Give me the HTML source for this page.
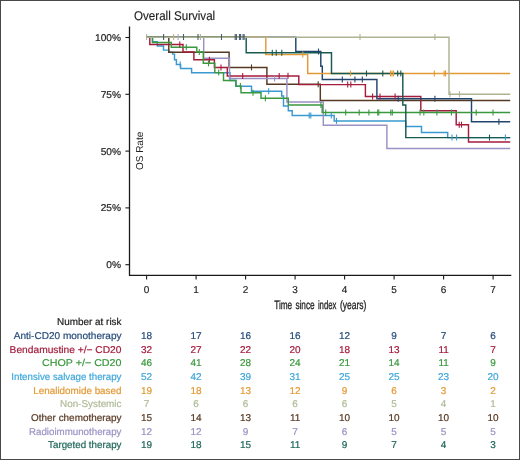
<!DOCTYPE html>
<html><head><meta charset="utf-8"><style>
html,body{margin:0;padding:0;background:#fff;}
.f{position:relative;width:520px;height:460px;box-sizing:border-box;border:1px solid #484848;overflow:hidden;background:#fff;}
svg{position:absolute;left:-1px;top:-1px;will-change:transform;}
text{font-family:"Liberation Sans",sans-serif;text-rendering:geometricPrecision;}
</style></head><body><div class="f"><svg width="520" height="460" viewBox="0 0 520 460">
<text x="134" y="19.8" font-size="12.7" textLength="81.2" lengthAdjust="spacingAndGlyphs" fill="#222" stroke="#222" stroke-width="0.15">Overall Survival</text>
<path d="M129.5 26.4 V275.3 H511.3" fill="none" stroke="#1a1a1a" stroke-width="1.3"/>
<path d="M125.4 37.50 H129.5" stroke="#1a1a1a" stroke-width="1.1"/>
<text x="121.0" y="40.90" font-size="9.9" text-anchor="end" textLength="25.88" lengthAdjust="spacingAndGlyphs" fill="#222" stroke="#222" stroke-width="0.2">100%</text>
<path d="M125.4 94.30 H129.5" stroke="#1a1a1a" stroke-width="1.1"/>
<text x="121.0" y="97.70" font-size="9.9" text-anchor="end" textLength="20.31" lengthAdjust="spacingAndGlyphs" fill="#222" stroke="#222" stroke-width="0.2">75%</text>
<path d="M125.4 151.10 H129.5" stroke="#1a1a1a" stroke-width="1.1"/>
<text x="121.0" y="154.50" font-size="9.9" text-anchor="end" textLength="20.31" lengthAdjust="spacingAndGlyphs" fill="#222" stroke="#222" stroke-width="0.2">50%</text>
<path d="M125.4 207.90 H129.5" stroke="#1a1a1a" stroke-width="1.1"/>
<text x="121.0" y="211.30" font-size="9.9" text-anchor="end" textLength="20.31" lengthAdjust="spacingAndGlyphs" fill="#222" stroke="#222" stroke-width="0.2">25%</text>
<path d="M125.4 264.70 H129.5" stroke="#1a1a1a" stroke-width="1.1"/>
<text x="121.0" y="268.10" font-size="9.9" text-anchor="end" textLength="14.75" lengthAdjust="spacingAndGlyphs" fill="#222" stroke="#222" stroke-width="0.2">0%</text>
<path d="M146.60 275.3 V279.5" stroke="#1a1a1a" stroke-width="1.1"/>
<text x="146.60" y="292.5" font-size="10" text-anchor="middle" fill="#222" stroke="#222" stroke-width="0.15">0</text>
<path d="M196.10 275.3 V279.5" stroke="#1a1a1a" stroke-width="1.1"/>
<text x="196.10" y="292.5" font-size="10" text-anchor="middle" fill="#222" stroke="#222" stroke-width="0.15">1</text>
<path d="M245.60 275.3 V279.5" stroke="#1a1a1a" stroke-width="1.1"/>
<text x="245.60" y="292.5" font-size="10" text-anchor="middle" fill="#222" stroke="#222" stroke-width="0.15">2</text>
<path d="M295.10 275.3 V279.5" stroke="#1a1a1a" stroke-width="1.1"/>
<text x="295.10" y="292.5" font-size="10" text-anchor="middle" fill="#222" stroke="#222" stroke-width="0.15">3</text>
<path d="M344.60 275.3 V279.5" stroke="#1a1a1a" stroke-width="1.1"/>
<text x="344.60" y="292.5" font-size="10" text-anchor="middle" fill="#222" stroke="#222" stroke-width="0.15">4</text>
<path d="M394.10 275.3 V279.5" stroke="#1a1a1a" stroke-width="1.1"/>
<text x="394.10" y="292.5" font-size="10" text-anchor="middle" fill="#222" stroke="#222" stroke-width="0.15">5</text>
<path d="M443.60 275.3 V279.5" stroke="#1a1a1a" stroke-width="1.1"/>
<text x="443.60" y="292.5" font-size="10" text-anchor="middle" fill="#222" stroke="#222" stroke-width="0.15">6</text>
<path d="M493.10 275.3 V279.5" stroke="#1a1a1a" stroke-width="1.1"/>
<text x="493.10" y="292.5" font-size="10" text-anchor="middle" fill="#222" stroke="#222" stroke-width="0.15">7</text>
<text transform="translate(143.0,170.1) rotate(-90)" font-size="10" textLength="38.4" lengthAdjust="spacingAndGlyphs" fill="#222">OS Rate</text>
<text x="274.2" y="309.4" font-size="12" textLength="18.0" lengthAdjust="spacingAndGlyphs" fill="#222" stroke="#222" stroke-width="0.3">Time</text>
<text x="295.4" y="309.4" font-size="12" textLength="19.3" lengthAdjust="spacingAndGlyphs" fill="#222" stroke="#222" stroke-width="0.3">since</text>
<text x="317.9" y="309.4" font-size="12" textLength="18.6" lengthAdjust="spacingAndGlyphs" fill="#222" stroke="#222" stroke-width="0.3">index</text>
<text x="339.9" y="309.4" font-size="12" textLength="26.5" lengthAdjust="spacingAndGlyphs" fill="#222" stroke="#222" stroke-width="0.3">(years)</text>
<path d="M146.60 37.20 H152.50 V41.70 H157.30 V46.00 H163.50 V50.10 H168.80 V52.20 H172.60 V54.10 H174.50 V59.80 H176.40 V64.40 H180.60 V68.50 H191.60 V72.70 H230.00 V80.40 H235.80 V86.30 H251.50 V91.30 H281.70 V95.90 H283.50 V105.90 H288.30 V110.70 H292.20 V115.40 H334.20 V120.90 H405.80 V126.50 H421.50 V132.40 H447.70 V137.60 H510.20" fill="none" stroke="#3a9ad0" stroke-width="1.45"/>
<path d="M146.60 37.20 H168.80 V52.20 H229.10 V67.40 H266.90 V84.20 H320.30 V100.40 H510.20" fill="none" stroke="#573823" stroke-width="1.45"/>
<path d="M146.60 37.20 H149.80 V44.50 H183.00 V52.00 H193.90 V59.70 H214.40 V67.40 H227.30 V75.90 H298.80 V84.60 H365.40 V96.50 H420.80 V110.80 H456.20 V124.70 H468.50 V142.00 H510.20" fill="none" stroke="#a51c3c" stroke-width="1.45"/>
<path d="M146.60 37.20 H295.80 V51.50 H320.80 V66.20 H322.30 V79.50 H376.90 V98.80 H471.50 V121.70 H510.20" fill="none" stroke="#22456e" stroke-width="1.45"/>
<path d="M146.60 37.20 H265.80 V54.60 H307.70 V73.50 H510.20" fill="none" stroke="#e39a35" stroke-width="1.45"/>
<path d="M146.60 37.20 H203.70 V58.20 H229.50 V78.50 H286.90 V101.90 H323.30 V125.30 H386.90 V148.50 H510.20" fill="none" stroke="#9a92c4" stroke-width="1.45"/>
<path d="M146.60 37.20 H152.50 V42.40 H171.30 V47.20 H196.80 V52.00 H203.30 V63.30 H214.80 V72.60 H223.50 V80.40 H236.00 V86.10 H241.00 V92.70 H261.00 V98.30 H288.30 V105.00 H322.20 V112.50 H510.20" fill="none" stroke="#3a983e" stroke-width="1.45"/>
<path d="M146.60 37.20 H246.20 V52.80 H331.50 V73.50 H402.80 V105.00 H405.80 V137.60 H510.20" fill="none" stroke="#185a50" stroke-width="1.45"/>
<path d="M146.60 37.20 H449.00 V94.20 H510.20" fill="none" stroke="#aeb392" stroke-width="1.45"/>
<path d="M180.20 61.40 V67.40" stroke="#3a9ad0" stroke-width="1.1"/>
<path d="M268.70 88.30 V94.30" stroke="#3a9ad0" stroke-width="1.1"/>
<path d="M309.20 112.40 V118.40" stroke="#3a9ad0" stroke-width="1.1"/>
<path d="M310.80 112.40 V118.40" stroke="#3a9ad0" stroke-width="1.1"/>
<path d="M331.30 112.40 V118.40" stroke="#3a9ad0" stroke-width="1.1"/>
<path d="M336.50 117.90 V123.90" stroke="#3a9ad0" stroke-width="1.1"/>
<path d="M452.00 134.60 V140.60" stroke="#3a9ad0" stroke-width="1.1"/>
<path d="M456.60 134.60 V140.60" stroke="#3a9ad0" stroke-width="1.1"/>
<path d="M505.40 134.60 V140.60" stroke="#3a9ad0" stroke-width="1.1"/>
<path d="M251.50 64.40 V70.40" stroke="#573823" stroke-width="1.1"/>
<path d="M318.20 81.20 V87.20" stroke="#573823" stroke-width="1.1"/>
<path d="M179.80 41.50 V47.50" stroke="#a51c3c" stroke-width="1.1"/>
<path d="M209.40 56.70 V62.70" stroke="#a51c3c" stroke-width="1.1"/>
<path d="M221.00 64.40 V70.40" stroke="#a51c3c" stroke-width="1.1"/>
<path d="M242.70 72.90 V78.90" stroke="#a51c3c" stroke-width="1.1"/>
<path d="M279.20 72.90 V78.90" stroke="#a51c3c" stroke-width="1.1"/>
<path d="M288.00 72.80 V78.80" stroke="#a51c3c" stroke-width="1.1"/>
<path d="M347.70 81.60 V87.60" stroke="#a51c3c" stroke-width="1.1"/>
<path d="M350.80 81.60 V87.60" stroke="#a51c3c" stroke-width="1.1"/>
<path d="M372.60 93.50 V99.50" stroke="#a51c3c" stroke-width="1.1"/>
<path d="M380.00 93.50 V99.50" stroke="#a51c3c" stroke-width="1.1"/>
<path d="M395.10 93.50 V99.50" stroke="#a51c3c" stroke-width="1.1"/>
<path d="M459.20 121.70 V127.70" stroke="#a51c3c" stroke-width="1.1"/>
<path d="M461.50 121.70 V127.70" stroke="#a51c3c" stroke-width="1.1"/>
<path d="M318.50 48.50 V54.50" stroke="#22456e" stroke-width="1.1"/>
<path d="M342.30 76.50 V82.50" stroke="#22456e" stroke-width="1.1"/>
<path d="M354.90 76.50 V82.50" stroke="#22456e" stroke-width="1.1"/>
<path d="M362.30 76.50 V82.50" stroke="#22456e" stroke-width="1.1"/>
<path d="M398.20 95.80 V101.80" stroke="#22456e" stroke-width="1.1"/>
<path d="M434.90 95.80 V101.80" stroke="#22456e" stroke-width="1.1"/>
<path d="M498.90 118.70 V124.70" stroke="#22456e" stroke-width="1.1"/>
<path d="M302.80 51.60 V57.60" stroke="#e39a35" stroke-width="1.1"/>
<path d="M350.50 70.50 V76.50" stroke="#e39a35" stroke-width="1.1"/>
<path d="M390.50 70.50 V76.50" stroke="#e39a35" stroke-width="1.1"/>
<path d="M392.00 70.50 V76.50" stroke="#e39a35" stroke-width="1.1"/>
<path d="M393.50 70.50 V76.50" stroke="#e39a35" stroke-width="1.1"/>
<path d="M434.30 70.50 V76.50" stroke="#e39a35" stroke-width="1.1"/>
<path d="M444.10 70.50 V76.50" stroke="#e39a35" stroke-width="1.1"/>
<path d="M445.50 70.50 V76.50" stroke="#e39a35" stroke-width="1.1"/>
<path d="M274.60 75.50 V81.50" stroke="#9a92c4" stroke-width="1.1"/>
<path d="M186.30 44.20 V50.20" stroke="#3a983e" stroke-width="1.1"/>
<path d="M199.30 49.00 V55.00" stroke="#3a983e" stroke-width="1.1"/>
<path d="M208.50 60.30 V66.30" stroke="#3a983e" stroke-width="1.1"/>
<path d="M218.70 69.60 V75.60" stroke="#3a983e" stroke-width="1.1"/>
<path d="M240.40 83.10 V89.10" stroke="#3a983e" stroke-width="1.1"/>
<path d="M253.00 89.70 V95.70" stroke="#3a983e" stroke-width="1.1"/>
<path d="M265.40 95.30 V101.30" stroke="#3a983e" stroke-width="1.1"/>
<path d="M320.90 102.00 V108.00" stroke="#3a983e" stroke-width="1.1"/>
<path d="M325.70 109.50 V115.50" stroke="#3a983e" stroke-width="1.1"/>
<path d="M345.70 109.50 V115.50" stroke="#3a983e" stroke-width="1.1"/>
<path d="M359.20 109.50 V115.50" stroke="#3a983e" stroke-width="1.1"/>
<path d="M368.90 109.50 V115.50" stroke="#3a983e" stroke-width="1.1"/>
<path d="M377.70 109.50 V115.50" stroke="#3a983e" stroke-width="1.1"/>
<path d="M378.80 109.50 V115.50" stroke="#3a983e" stroke-width="1.1"/>
<path d="M390.80 109.50 V115.50" stroke="#3a983e" stroke-width="1.1"/>
<path d="M392.30 109.50 V115.50" stroke="#3a983e" stroke-width="1.1"/>
<path d="M420.00 109.50 V115.50" stroke="#3a983e" stroke-width="1.1"/>
<path d="M423.80 109.50 V115.50" stroke="#3a983e" stroke-width="1.1"/>
<path d="M436.90 109.50 V115.50" stroke="#3a983e" stroke-width="1.1"/>
<path d="M451.50 109.50 V115.50" stroke="#3a983e" stroke-width="1.1"/>
<path d="M476.20 109.50 V115.50" stroke="#3a983e" stroke-width="1.1"/>
<path d="M493.00 109.50 V115.50" stroke="#3a983e" stroke-width="1.1"/>
<path d="M272.30 49.80 V55.80" stroke="#185a50" stroke-width="1.1"/>
<path d="M276.20 49.80 V55.80" stroke="#185a50" stroke-width="1.1"/>
<path d="M281.80 49.80 V55.80" stroke="#185a50" stroke-width="1.1"/>
<path d="M366.50 70.50 V76.50" stroke="#185a50" stroke-width="1.1"/>
<path d="M382.80 70.50 V76.50" stroke="#185a50" stroke-width="1.1"/>
<path d="M397.70 70.50 V76.50" stroke="#185a50" stroke-width="1.1"/>
<path d="M400.80 70.50 V76.50" stroke="#185a50" stroke-width="1.1"/>
<path d="M489.50 134.60 V140.60" stroke="#185a50" stroke-width="1.1"/>
<path d="M146.60 34.00 V40.00" stroke="#aeb392" stroke-width="1.1"/>
<path d="M200.40 34.00 V40.00" stroke="#aeb392" stroke-width="1.1"/>
<path d="M360.00 34.00 V40.00" stroke="#aeb392" stroke-width="1.1"/>
<path d="M434.90 34.00 V40.00" stroke="#aeb392" stroke-width="1.1"/>
<path d="M450.00 91.20 V97.20" stroke="#aeb392" stroke-width="1.1"/>
<path d="M459.50 91.20 V97.20" stroke="#aeb392" stroke-width="1.1"/>
<path d="M163.60 34.00 V40.00" stroke="#4a5e70" stroke-width="1.1"/>
<path d="M183.50 34.00 V40.00" stroke="#4a5e70" stroke-width="1.1"/>
<path d="M198.00 34.00 V40.00" stroke="#4a5e70" stroke-width="1.1"/>
<path d="M221.50 34.00 V40.00" stroke="#4a5e70" stroke-width="1.1"/>
<path d="M235.20 34.00 V40.00" stroke="#4a5e70" stroke-width="1.1"/>
<path d="M236.40 34.00 V40.00" stroke="#4a5e70" stroke-width="1.1"/>
<path d="M239.50 34.00 V40.00" stroke="#4a5e70" stroke-width="1.1"/>
<path d="M240.60 34.00 V40.00" stroke="#4a5e70" stroke-width="1.1"/>
<path d="M243.10 34.00 V40.00" stroke="#4a5e70" stroke-width="1.1"/>
<path d="M244.10 34.00 V40.00" stroke="#4a5e70" stroke-width="1.1"/>
<path d="M173.60 34.00 V40.00" stroke="#c2b08e" stroke-width="1.1"/>
<path d="M178.10 34.00 V40.00" stroke="#b0a6c0" stroke-width="1.1"/>
<text x="121.5" y="325" font-size="9.9" text-anchor="end" textLength="64.4" lengthAdjust="spacingAndGlyphs" fill="#222" stroke="#222" stroke-width="0.2">Number at risk</text>
<text x="121.5" y="339.20" font-size="9.9" text-anchor="end" textLength="107.70" lengthAdjust="spacingAndGlyphs" fill="#264c7a" stroke="#264c7a" stroke-width="0.2">Anti-CD20 monotherapy</text>
<text x="146.60" y="339.20" font-size="9.9" text-anchor="middle" textLength="11.12" lengthAdjust="spacingAndGlyphs" fill="#264c7a" stroke="#264c7a" stroke-width="0.2">18</text>
<text x="196.10" y="339.20" font-size="9.9" text-anchor="middle" textLength="11.12" lengthAdjust="spacingAndGlyphs" fill="#264c7a" stroke="#264c7a" stroke-width="0.2">17</text>
<text x="245.60" y="339.20" font-size="9.9" text-anchor="middle" textLength="11.12" lengthAdjust="spacingAndGlyphs" fill="#264c7a" stroke="#264c7a" stroke-width="0.2">16</text>
<text x="295.10" y="339.20" font-size="9.9" text-anchor="middle" textLength="11.12" lengthAdjust="spacingAndGlyphs" fill="#264c7a" stroke="#264c7a" stroke-width="0.2">16</text>
<text x="344.60" y="339.20" font-size="9.9" text-anchor="middle" textLength="11.12" lengthAdjust="spacingAndGlyphs" fill="#264c7a" stroke="#264c7a" stroke-width="0.2">12</text>
<text x="394.10" y="339.20" font-size="9.9" text-anchor="middle" textLength="5.56" lengthAdjust="spacingAndGlyphs" fill="#264c7a" stroke="#264c7a" stroke-width="0.2">9</text>
<text x="443.60" y="339.20" font-size="9.9" text-anchor="middle" textLength="5.56" lengthAdjust="spacingAndGlyphs" fill="#264c7a" stroke="#264c7a" stroke-width="0.2">7</text>
<text x="493.10" y="339.20" font-size="9.9" text-anchor="middle" textLength="5.56" lengthAdjust="spacingAndGlyphs" fill="#264c7a" stroke="#264c7a" stroke-width="0.2">6</text>
<text x="121.5" y="352.84" font-size="9.9" text-anchor="end" textLength="111.90" lengthAdjust="spacingAndGlyphs" fill="#a41c3c" stroke="#a41c3c" stroke-width="0.2">Bendamustine +/− CD20</text>
<text x="146.60" y="352.84" font-size="9.9" text-anchor="middle" textLength="11.12" lengthAdjust="spacingAndGlyphs" fill="#a41c3c" stroke="#a41c3c" stroke-width="0.2">32</text>
<text x="196.10" y="352.84" font-size="9.9" text-anchor="middle" textLength="11.12" lengthAdjust="spacingAndGlyphs" fill="#a41c3c" stroke="#a41c3c" stroke-width="0.2">27</text>
<text x="245.60" y="352.84" font-size="9.9" text-anchor="middle" textLength="11.12" lengthAdjust="spacingAndGlyphs" fill="#a41c3c" stroke="#a41c3c" stroke-width="0.2">22</text>
<text x="295.10" y="352.84" font-size="9.9" text-anchor="middle" textLength="11.12" lengthAdjust="spacingAndGlyphs" fill="#a41c3c" stroke="#a41c3c" stroke-width="0.2">20</text>
<text x="344.60" y="352.84" font-size="9.9" text-anchor="middle" textLength="11.12" lengthAdjust="spacingAndGlyphs" fill="#a41c3c" stroke="#a41c3c" stroke-width="0.2">18</text>
<text x="394.10" y="352.84" font-size="9.9" text-anchor="middle" textLength="11.12" lengthAdjust="spacingAndGlyphs" fill="#a41c3c" stroke="#a41c3c" stroke-width="0.2">13</text>
<text x="443.60" y="352.84" font-size="9.9" text-anchor="middle" textLength="10.38" lengthAdjust="spacingAndGlyphs" fill="#a41c3c" stroke="#a41c3c" stroke-width="0.2">11</text>
<text x="493.10" y="352.84" font-size="9.9" text-anchor="middle" textLength="5.56" lengthAdjust="spacingAndGlyphs" fill="#a41c3c" stroke="#a41c3c" stroke-width="0.2">7</text>
<text x="121.5" y="366.48" font-size="9.9" text-anchor="end" textLength="79.50" lengthAdjust="spacingAndGlyphs" fill="#3a983e" stroke="#3a983e" stroke-width="0.2">CHOP +/− CD20</text>
<text x="146.60" y="366.48" font-size="9.9" text-anchor="middle" textLength="11.12" lengthAdjust="spacingAndGlyphs" fill="#3a983e" stroke="#3a983e" stroke-width="0.2">46</text>
<text x="196.10" y="366.48" font-size="9.9" text-anchor="middle" textLength="11.12" lengthAdjust="spacingAndGlyphs" fill="#3a983e" stroke="#3a983e" stroke-width="0.2">41</text>
<text x="245.60" y="366.48" font-size="9.9" text-anchor="middle" textLength="11.12" lengthAdjust="spacingAndGlyphs" fill="#3a983e" stroke="#3a983e" stroke-width="0.2">28</text>
<text x="295.10" y="366.48" font-size="9.9" text-anchor="middle" textLength="11.12" lengthAdjust="spacingAndGlyphs" fill="#3a983e" stroke="#3a983e" stroke-width="0.2">24</text>
<text x="344.60" y="366.48" font-size="9.9" text-anchor="middle" textLength="11.12" lengthAdjust="spacingAndGlyphs" fill="#3a983e" stroke="#3a983e" stroke-width="0.2">21</text>
<text x="394.10" y="366.48" font-size="9.9" text-anchor="middle" textLength="11.12" lengthAdjust="spacingAndGlyphs" fill="#3a983e" stroke="#3a983e" stroke-width="0.2">14</text>
<text x="443.60" y="366.48" font-size="9.9" text-anchor="middle" textLength="10.38" lengthAdjust="spacingAndGlyphs" fill="#3a983e" stroke="#3a983e" stroke-width="0.2">11</text>
<text x="493.10" y="366.48" font-size="9.9" text-anchor="middle" textLength="5.56" lengthAdjust="spacingAndGlyphs" fill="#3a983e" stroke="#3a983e" stroke-width="0.2">9</text>
<text x="121.5" y="380.12" font-size="9.9" text-anchor="end" textLength="110.20" lengthAdjust="spacingAndGlyphs" fill="#3ea6da" stroke="#3ea6da" stroke-width="0.2">Intensive salvage therapy</text>
<text x="146.60" y="380.12" font-size="9.9" text-anchor="middle" textLength="11.12" lengthAdjust="spacingAndGlyphs" fill="#3ea6da" stroke="#3ea6da" stroke-width="0.2">52</text>
<text x="196.10" y="380.12" font-size="9.9" text-anchor="middle" textLength="11.12" lengthAdjust="spacingAndGlyphs" fill="#3ea6da" stroke="#3ea6da" stroke-width="0.2">42</text>
<text x="245.60" y="380.12" font-size="9.9" text-anchor="middle" textLength="11.12" lengthAdjust="spacingAndGlyphs" fill="#3ea6da" stroke="#3ea6da" stroke-width="0.2">39</text>
<text x="295.10" y="380.12" font-size="9.9" text-anchor="middle" textLength="11.12" lengthAdjust="spacingAndGlyphs" fill="#3ea6da" stroke="#3ea6da" stroke-width="0.2">31</text>
<text x="344.60" y="380.12" font-size="9.9" text-anchor="middle" textLength="11.12" lengthAdjust="spacingAndGlyphs" fill="#3ea6da" stroke="#3ea6da" stroke-width="0.2">25</text>
<text x="394.10" y="380.12" font-size="9.9" text-anchor="middle" textLength="11.12" lengthAdjust="spacingAndGlyphs" fill="#3ea6da" stroke="#3ea6da" stroke-width="0.2">25</text>
<text x="443.60" y="380.12" font-size="9.9" text-anchor="middle" textLength="11.12" lengthAdjust="spacingAndGlyphs" fill="#3ea6da" stroke="#3ea6da" stroke-width="0.2">23</text>
<text x="493.10" y="380.12" font-size="9.9" text-anchor="middle" textLength="11.12" lengthAdjust="spacingAndGlyphs" fill="#3ea6da" stroke="#3ea6da" stroke-width="0.2">20</text>
<text x="121.5" y="393.76" font-size="9.9" text-anchor="end" textLength="88.20" lengthAdjust="spacingAndGlyphs" fill="#e39a35" stroke="#e39a35" stroke-width="0.2">Lenalidomide based</text>
<text x="146.60" y="393.76" font-size="9.9" text-anchor="middle" textLength="11.12" lengthAdjust="spacingAndGlyphs" fill="#e39a35" stroke="#e39a35" stroke-width="0.2">19</text>
<text x="196.10" y="393.76" font-size="9.9" text-anchor="middle" textLength="11.12" lengthAdjust="spacingAndGlyphs" fill="#e39a35" stroke="#e39a35" stroke-width="0.2">18</text>
<text x="245.60" y="393.76" font-size="9.9" text-anchor="middle" textLength="11.12" lengthAdjust="spacingAndGlyphs" fill="#e39a35" stroke="#e39a35" stroke-width="0.2">13</text>
<text x="295.10" y="393.76" font-size="9.9" text-anchor="middle" textLength="11.12" lengthAdjust="spacingAndGlyphs" fill="#e39a35" stroke="#e39a35" stroke-width="0.2">12</text>
<text x="344.60" y="393.76" font-size="9.9" text-anchor="middle" textLength="5.56" lengthAdjust="spacingAndGlyphs" fill="#e39a35" stroke="#e39a35" stroke-width="0.2">9</text>
<text x="394.10" y="393.76" font-size="9.9" text-anchor="middle" textLength="5.56" lengthAdjust="spacingAndGlyphs" fill="#e39a35" stroke="#e39a35" stroke-width="0.2">6</text>
<text x="443.60" y="393.76" font-size="9.9" text-anchor="middle" textLength="5.56" lengthAdjust="spacingAndGlyphs" fill="#e39a35" stroke="#e39a35" stroke-width="0.2">3</text>
<text x="493.10" y="393.76" font-size="9.9" text-anchor="middle" textLength="5.56" lengthAdjust="spacingAndGlyphs" fill="#e39a35" stroke="#e39a35" stroke-width="0.2">2</text>
<text x="121.5" y="407.40" font-size="9.9" text-anchor="end" textLength="61.50" lengthAdjust="spacingAndGlyphs" fill="#b0bb98" stroke="#b0bb98" stroke-width="0.2">Non-Systemic</text>
<text x="146.60" y="407.40" font-size="9.9" text-anchor="middle" textLength="5.56" lengthAdjust="spacingAndGlyphs" fill="#b0bb98" stroke="#b0bb98" stroke-width="0.2">7</text>
<text x="196.10" y="407.40" font-size="9.9" text-anchor="middle" textLength="5.56" lengthAdjust="spacingAndGlyphs" fill="#b0bb98" stroke="#b0bb98" stroke-width="0.2">6</text>
<text x="245.60" y="407.40" font-size="9.9" text-anchor="middle" textLength="5.56" lengthAdjust="spacingAndGlyphs" fill="#b0bb98" stroke="#b0bb98" stroke-width="0.2">6</text>
<text x="295.10" y="407.40" font-size="9.9" text-anchor="middle" textLength="5.56" lengthAdjust="spacingAndGlyphs" fill="#b0bb98" stroke="#b0bb98" stroke-width="0.2">6</text>
<text x="344.60" y="407.40" font-size="9.9" text-anchor="middle" textLength="5.56" lengthAdjust="spacingAndGlyphs" fill="#b0bb98" stroke="#b0bb98" stroke-width="0.2">6</text>
<text x="394.10" y="407.40" font-size="9.9" text-anchor="middle" textLength="5.56" lengthAdjust="spacingAndGlyphs" fill="#b0bb98" stroke="#b0bb98" stroke-width="0.2">5</text>
<text x="443.60" y="407.40" font-size="9.9" text-anchor="middle" textLength="5.56" lengthAdjust="spacingAndGlyphs" fill="#b0bb98" stroke="#b0bb98" stroke-width="0.2">4</text>
<text x="493.10" y="407.40" font-size="9.9" text-anchor="middle" textLength="5.56" lengthAdjust="spacingAndGlyphs" fill="#b0bb98" stroke="#b0bb98" stroke-width="0.2">1</text>
<text x="121.5" y="421.04" font-size="9.9" text-anchor="end" textLength="90.40" lengthAdjust="spacingAndGlyphs" fill="#573823" stroke="#573823" stroke-width="0.2">Other chemotherapy</text>
<text x="146.60" y="421.04" font-size="9.9" text-anchor="middle" textLength="11.12" lengthAdjust="spacingAndGlyphs" fill="#573823" stroke="#573823" stroke-width="0.2">15</text>
<text x="196.10" y="421.04" font-size="9.9" text-anchor="middle" textLength="11.12" lengthAdjust="spacingAndGlyphs" fill="#573823" stroke="#573823" stroke-width="0.2">14</text>
<text x="245.60" y="421.04" font-size="9.9" text-anchor="middle" textLength="11.12" lengthAdjust="spacingAndGlyphs" fill="#573823" stroke="#573823" stroke-width="0.2">13</text>
<text x="295.10" y="421.04" font-size="9.9" text-anchor="middle" textLength="10.38" lengthAdjust="spacingAndGlyphs" fill="#573823" stroke="#573823" stroke-width="0.2">11</text>
<text x="344.60" y="421.04" font-size="9.9" text-anchor="middle" textLength="11.12" lengthAdjust="spacingAndGlyphs" fill="#573823" stroke="#573823" stroke-width="0.2">10</text>
<text x="394.10" y="421.04" font-size="9.9" text-anchor="middle" textLength="11.12" lengthAdjust="spacingAndGlyphs" fill="#573823" stroke="#573823" stroke-width="0.2">10</text>
<text x="443.60" y="421.04" font-size="9.9" text-anchor="middle" textLength="11.12" lengthAdjust="spacingAndGlyphs" fill="#573823" stroke="#573823" stroke-width="0.2">10</text>
<text x="493.10" y="421.04" font-size="9.9" text-anchor="middle" textLength="11.12" lengthAdjust="spacingAndGlyphs" fill="#573823" stroke="#573823" stroke-width="0.2">10</text>
<text x="121.5" y="434.68" font-size="9.9" text-anchor="end" textLength="92.50" lengthAdjust="spacingAndGlyphs" fill="#9a92c4" stroke="#9a92c4" stroke-width="0.2">Radioimmunotherapy</text>
<text x="146.60" y="434.68" font-size="9.9" text-anchor="middle" textLength="11.12" lengthAdjust="spacingAndGlyphs" fill="#9a92c4" stroke="#9a92c4" stroke-width="0.2">12</text>
<text x="196.10" y="434.68" font-size="9.9" text-anchor="middle" textLength="11.12" lengthAdjust="spacingAndGlyphs" fill="#9a92c4" stroke="#9a92c4" stroke-width="0.2">12</text>
<text x="245.60" y="434.68" font-size="9.9" text-anchor="middle" textLength="5.56" lengthAdjust="spacingAndGlyphs" fill="#9a92c4" stroke="#9a92c4" stroke-width="0.2">9</text>
<text x="295.10" y="434.68" font-size="9.9" text-anchor="middle" textLength="5.56" lengthAdjust="spacingAndGlyphs" fill="#9a92c4" stroke="#9a92c4" stroke-width="0.2">7</text>
<text x="344.60" y="434.68" font-size="9.9" text-anchor="middle" textLength="5.56" lengthAdjust="spacingAndGlyphs" fill="#9a92c4" stroke="#9a92c4" stroke-width="0.2">6</text>
<text x="394.10" y="434.68" font-size="9.9" text-anchor="middle" textLength="5.56" lengthAdjust="spacingAndGlyphs" fill="#9a92c4" stroke="#9a92c4" stroke-width="0.2">5</text>
<text x="443.60" y="434.68" font-size="9.9" text-anchor="middle" textLength="5.56" lengthAdjust="spacingAndGlyphs" fill="#9a92c4" stroke="#9a92c4" stroke-width="0.2">5</text>
<text x="493.10" y="434.68" font-size="9.9" text-anchor="middle" textLength="5.56" lengthAdjust="spacingAndGlyphs" fill="#9a92c4" stroke="#9a92c4" stroke-width="0.2">5</text>
<text x="121.5" y="448.32" font-size="9.9" text-anchor="end" textLength="73.40" lengthAdjust="spacingAndGlyphs" fill="#1e6658" stroke="#1e6658" stroke-width="0.2">Targeted therapy</text>
<text x="146.60" y="448.32" font-size="9.9" text-anchor="middle" textLength="11.12" lengthAdjust="spacingAndGlyphs" fill="#1e6658" stroke="#1e6658" stroke-width="0.2">19</text>
<text x="196.10" y="448.32" font-size="9.9" text-anchor="middle" textLength="11.12" lengthAdjust="spacingAndGlyphs" fill="#1e6658" stroke="#1e6658" stroke-width="0.2">18</text>
<text x="245.60" y="448.32" font-size="9.9" text-anchor="middle" textLength="11.12" lengthAdjust="spacingAndGlyphs" fill="#1e6658" stroke="#1e6658" stroke-width="0.2">15</text>
<text x="295.10" y="448.32" font-size="9.9" text-anchor="middle" textLength="10.38" lengthAdjust="spacingAndGlyphs" fill="#1e6658" stroke="#1e6658" stroke-width="0.2">11</text>
<text x="344.60" y="448.32" font-size="9.9" text-anchor="middle" textLength="5.56" lengthAdjust="spacingAndGlyphs" fill="#1e6658" stroke="#1e6658" stroke-width="0.2">9</text>
<text x="394.10" y="448.32" font-size="9.9" text-anchor="middle" textLength="5.56" lengthAdjust="spacingAndGlyphs" fill="#1e6658" stroke="#1e6658" stroke-width="0.2">7</text>
<text x="443.60" y="448.32" font-size="9.9" text-anchor="middle" textLength="5.56" lengthAdjust="spacingAndGlyphs" fill="#1e6658" stroke="#1e6658" stroke-width="0.2">4</text>
<text x="493.10" y="448.32" font-size="9.9" text-anchor="middle" textLength="5.56" lengthAdjust="spacingAndGlyphs" fill="#1e6658" stroke="#1e6658" stroke-width="0.2">3</text>
</svg></div></body></html>
